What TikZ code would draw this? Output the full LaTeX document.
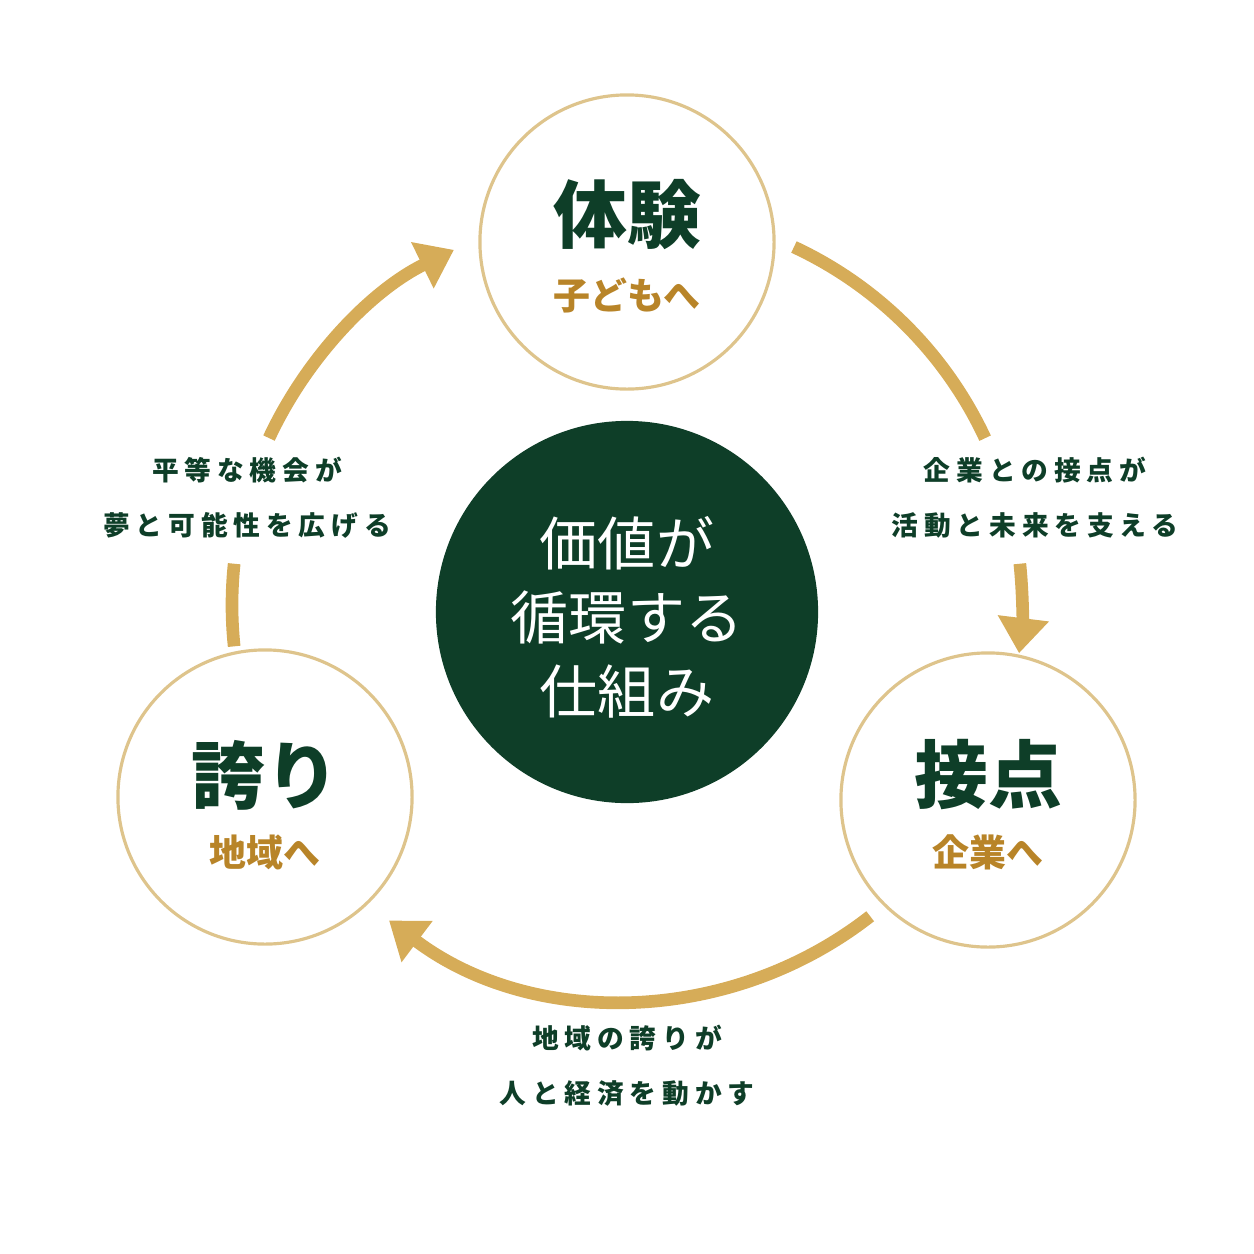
\documentclass[tikz,border=0pt]{standalone}
\usepackage{fontspec}
\newfontfamily\cjk{Noto Sans CJK JP}
\newfontfamily\cjkl{Noto Sans CJK JP}[LetterSpace=22]
\usetikzlibrary{arrows.meta}
\definecolor{dg}{RGB}{14,62,40}
\definecolor{gd}{RGB}{214,172,88}
\definecolor{gt}{RGB}{184,132,40}
\definecolor{ring}{RGB}{222,196,140}
\begin{document}
\begin{tikzpicture}[x=0.01cm,y=-0.01cm,
  wc/.style={circle,draw=ring,line width=0.9pt,fill=white,minimum size=2.94cm,inner sep=0},
  arc/.style={draw=gd,line width=3.6pt},
  arr/.style={arc,-{Triangle[length=10pt,width=14pt]}},
  big/.style={font=\cjk\bfseries\fontsize{21}{24}\selectfont,text=dg},
  sub/.style={font=\cjk\bfseries\fontsize{10.5}{12}\selectfont,text=gt},
  lab/.style={font=\cjkl\bfseries\fontsize{7.6}{15.6}\selectfont,text=dg,align=center}]
\useasboundingbox (0,0) rectangle (1254,1254);
\coordinate (O) at (627,605);
% arcs
\draw[arc] ([shift={(-65:395)}]O) arc[start angle=65,end angle=25,radius=3.95cm];
\draw[arr] ([shift={(-6:395)}]O) arc[start angle=6,end angle=-7,radius=3.95cm];
\draw[arr] ([shift={(52:395)}]O) arc[start angle=-52,end angle=-127,radius=3.95cm];
\draw[arc] ([shift={(-174:395)}]O) arc[start angle=174,end angle=186,radius=3.95cm];
\draw[arr] ([shift={(-155:395)}]O) arc[start angle=155,end angle=116,radius=3.95cm];
% circles
\node[wc] (t) at (627,242) {};
\node[wc] (l) at (265,797) {};
\node[wc] (r) at (988,800) {};
\node[circle,fill=dg,minimum size=3.82cm,inner sep=0] (c) at (627,612) {};
\node[big] (t1) at (627,215) {体験};
\node[sub] (t2) at (627,295) {子どもへ};
\node[big] (l1) at (265,775) {誇り};
\node[sub] (l2) at (265,852) {地域へ};
\node[big] (r1) at (988,775) {接点};
\node[sub] (r2) at (988,852) {企業へ};
\node[font=\cjk\fontsize{16.5}{21}\selectfont,text=white,align=center] (ct) at (627,617) {価値が\\循環する\\仕組み};
\node[lab] (a) at (247,498) {平等な機会が\\夢と可能性を広げる};
\node[lab] (b) at (1035,498) {企業との接点が\\活動と未来を支える};
\node[lab] (d) at (627,1066) {地域の誇りが\\人と経済を動かす};
\end{tikzpicture}
\end{document}
